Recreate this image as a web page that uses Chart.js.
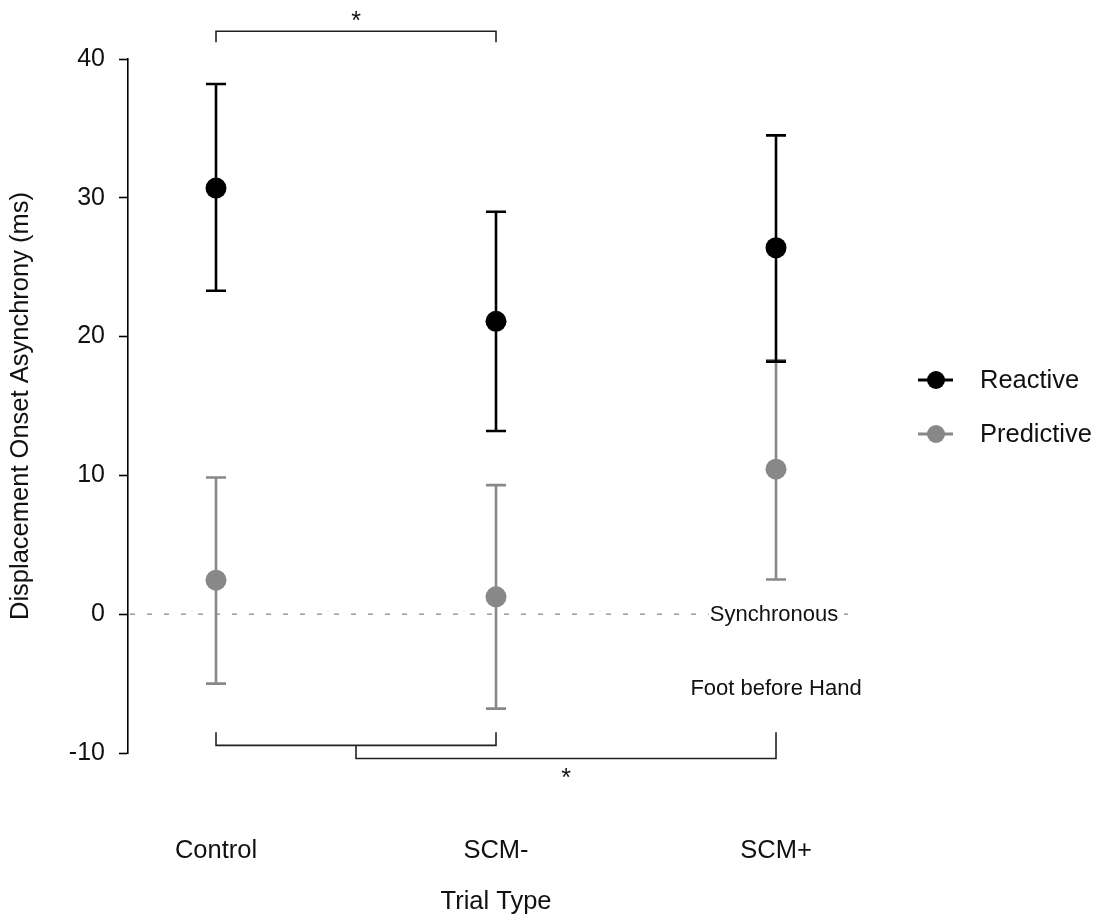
<!DOCTYPE html>
<html>
<head>
<meta charset="utf-8">
<script src="https://cdn.jsdelivr.net/npm/chart.js@4.4.0/dist/chart.umd.min.js"></script>
<style>
  html, body { margin: 0; background: #fff; }
  #wrap { width: 1095px; height: 918px; position: relative; }
</style>
</head>
<body>
<div id="wrap"><canvas id="chart"></canvas></div>
<script>
// Data
const categories = ["Control", "SCM-", "SCM+"];
const reactiveMean = [30.7, 21.1, 26.4];
const reactiveLow = [23.3, 13.2, 18.2];
const reactiveHigh = [38.2, 29.0, 34.5];
const predictiveMean = [2.45, 1.25, 10.45];
const predictiveLow = [-5.0, -6.8, 2.5];
const predictiveHigh = [9.85, 9.3, 18.3];
const yTickValues = [-10, 0, 10, 20, 30, 40];

// Significance brackets in data units: [x1, x2, barY, tipY1, tipY2]
const brackets = [
  [0, 1, 42.0, 41.2, 41.2],
  [0, 1, -9.45, -8.5, -8.5],
  [0.5, 2, -10.4, -9.45, -8.5],
];
const stars = [[0.5, 43.0], [1.25, -11.5]];

const BLACK = "#000000";
const GREY = "#888888";
const FONT = "'Liberation Sans', Arial, Helvetica, sans-serif";

function toPoints(values) {
  return values.map((v, i) => ({ x: i, y: v }));
}

// Zero line, error bars and annotations
const errorBars = {
  id: "errorBars",
  beforeDatasetsDraw(chart) {
    const { ctx, chartArea } = chart;
    const x = chart.scales.x;
    const y = chart.scales.y;

    // dashed reference line at 0
    const y0 = y.getPixelForValue(0);
    ctx.save();
    ctx.strokeStyle = GREY;
    ctx.lineWidth = 1.2;
    ctx.setLineDash([5, 12]);
    ctx.beginPath();
    ctx.moveTo(chartArea.left + 2, y0);
    ctx.lineTo(chartArea.right, y0);
    ctx.stroke();
    ctx.restore();

    // grey first so black caps sit on top
    [1, 0].forEach((idx) => {
      const ds = chart.data.datasets[idx];
      ctx.save();
      ctx.strokeStyle = ds.borderColor;
      ctx.lineWidth = 2.6;
      ds.data.forEach((p, j) => {
        const px = x.getPixelForValue(p.x);
        const lo = y.getPixelForValue(ds.errLow[j]);
        const hi = y.getPixelForValue(ds.errHigh[j]);
        ctx.beginPath();
        ctx.moveTo(px, lo);
        ctx.lineTo(px, hi);
        ctx.moveTo(px - 10, lo);
        ctx.lineTo(px + 10, lo);
        ctx.moveTo(px - 10, hi);
        ctx.lineTo(px + 10, hi);
        ctx.stroke();
      });
      ctx.restore();
    });
  },
  afterDraw(chart) {
    const { ctx } = chart;
    const x = chart.scales.x;
    const y = chart.scales.y;

    // brackets
    ctx.save();
    ctx.strokeStyle = "#222";
    ctx.lineWidth = 1.6;
    brackets.forEach(([x1, x2, by, t1, t2]) => {
      ctx.beginPath();
      ctx.moveTo(x.getPixelForValue(x1), y.getPixelForValue(t1));
      ctx.lineTo(x.getPixelForValue(x1), y.getPixelForValue(by));
      ctx.lineTo(x.getPixelForValue(x2), y.getPixelForValue(by));
      ctx.lineTo(x.getPixelForValue(x2), y.getPixelForValue(t2));
      ctx.stroke();
    });
    ctx.fillStyle = "#111";
    ctx.font = "25px " + FONT;
    ctx.textAlign = "center";
    ctx.textBaseline = "middle";
    stars.forEach(([sx, sy]) => {
      ctx.fillText("*", x.getPixelForValue(sx), y.getPixelForValue(sy) + 5);
    });

    // "Synchronous" label on the zero line
    ctx.font = "22px " + FONT;
    const sx = x.getPixelForValue(1.993);
    const sy = y.getPixelForValue(0);
    const w = ctx.measureText("Synchronous").width;
    ctx.fillStyle = "#fff";
    ctx.fillRect(sx - w / 2 - 1, sy - 13, w + 2, 25);
    ctx.fillStyle = "#111";
    ctx.fillText("Synchronous", sx, sy + 1);
    ctx.fillText("Foot before Hand", x.getPixelForValue(2), y.getPixelForValue(-5.4));

    // x axis title, centred under the middle category
    ctx.font = "25.5px " + FONT;
    ctx.fillText("Trial Type", x.getPixelForValue(1), 902);

    // legend
    const items = [
      ["Reactive", BLACK, 380],
      ["Predictive", GREY, 434],
    ];
    ctx.textAlign = "left";
    items.forEach(([label, color, ly]) => {
      ctx.strokeStyle = color;
      ctx.lineWidth = 3;
      ctx.beginPath();
      ctx.moveTo(918, ly);
      ctx.lineTo(953, ly);
      ctx.stroke();
      ctx.fillStyle = color;
      ctx.beginPath();
      ctx.arc(936, ly, 9, 0, Math.PI * 2);
      ctx.fill();
      ctx.fillStyle = "#111";
      ctx.fillText(label, 980, ly + 1);
    });
    ctx.restore();
  },
};

const ctx = document.getElementById("chart").getContext("2d");

new Chart(ctx, {
  type: "scatter",
  data: {
    datasets: [
      {
        label: "Reactive",
        data: toPoints(reactiveMean),
        errLow: reactiveLow,
        errHigh: reactiveHigh,
        borderColor: BLACK,
        backgroundColor: BLACK,
        pointRadius: 10.5,
        pointHoverRadius: 10.5,
        pointBorderWidth: 0,
        showLine: false,
      },
      {
        label: "Predictive",
        data: toPoints(predictiveMean),
        errLow: predictiveLow,
        errHigh: predictiveHigh,
        borderColor: GREY,
        backgroundColor: GREY,
        pointRadius: 10.5,
        pointHoverRadius: 10.5,
        pointBorderWidth: 0,
        showLine: false,
      },
    ],
  },
  options: {
    responsive: true,
    maintainAspectRatio: false,
    animation: false,
    layout: {
      padding: { top: 59, right: 247, bottom: 0, left: 0 },
    },
    plugins: {
      legend: { display: false },
      tooltip: { enabled: false },
    },
    scales: {
      x: {
        type: "linear",
        min: -0.3143,
        max: 2.2571,
        afterFit: function (scale) {
          scale.height = 165;
        },
        grid: { display: false, drawTicks: false },
        border: { display: false },
        ticks: {
          stepSize: 1,
          includeBounds: false,
          padding: 83,
          color: "#111",
          font: { family: FONT, size: 25.5 },
          callback: function (value) {
            return categories[value];
          },
        },
      },
      y: {
        min: yTickValues[0],
        max: yTickValues[yTickValues.length - 1],
        afterFit: function (scale) {
          scale.width = 128;
        },
        afterBuildTicks: function (scale) {
          scale.ticks = yTickValues.map((v) => ({ value: v }));
        },
        grid: {
          display: true,
          drawOnChartArea: false,
          drawTicks: true,
          tickLength: 9,
          tickColor: BLACK,
          tickWidth: 1.6,
        },
        border: { display: true, color: BLACK, width: 1.6 },
        ticks: {
          padding: 14,
          color: "#111",
          font: { family: FONT, size: 25 },
        },
        title: {
          display: true,
          text: "Displacement Onset Asynchrony (ms)",
          color: "#111",
          font: { family: FONT, size: 25.5 },
          padding: { top: 6, bottom: 0 },
        },
      },
    },
  },
  plugins: [errorBars],
});
</script>
</body>
</html>
